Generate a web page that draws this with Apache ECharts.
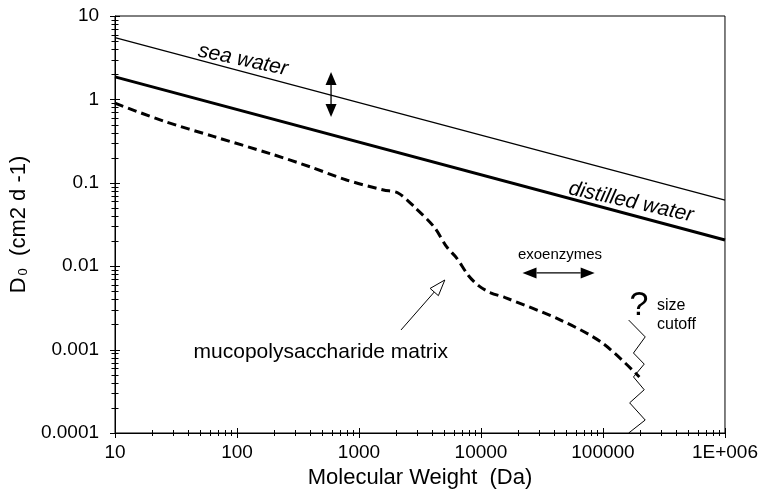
<!DOCTYPE html>
<html><head><meta charset="utf-8">
<script src="https://cdn.jsdelivr.net/npm/echarts@6/dist/echarts.min.js"></script>
<style>html,body{margin:0;padding:0;background:#fff}#c{width:761px;height:502px}</style>
</head><body><div id="c"></div>
<script>
// ---- data ----
const xTickLabels = ['10', '100', '1000', '10000', '100000', '1E+006'];
const yTickLabels = ['0.0001', '0.001', '0.01', '0.1', '1', '10'];
const seaWaterX = [10, 1000000];
const seaWaterY = [5.5, 0.062];
const distilledX = [10, 1000000];
const distilledY = [1.86, 0.0206];
const matrixX = [10, 25, 64, 192, 400, 790, 1590, 2090, 2860, 4130, 5240, 6300, 7850, 9600, 12000, 15800, 44900, 98900, 198700];
const matrixY = [0.9, 0.55, 0.36, 0.221, 0.155, 0.108, 0.082, 0.0755, 0.051, 0.0295, 0.017, 0.0126, 0.0078, 0.0058, 0.0048, 0.0042, 0.00226, 0.0012, 0.00047];
const cutoffX = [162400, 221900, 177800, 217800, 177800, 217800, 165400, 221900, 162400];
const cutoffY = [0.00226, 0.00142, 0.00091, 0.00067, 0.00047, 0.00033, 0.00023, 0.000143, 0.0001];
const seaArrowX = [590, 590];
const seaArrowY = [2.13, 0.615];
const exoArrowX = [21900, 85500];
const exoArrowY = [0.0083, 0.0083];
const matrixArrowX = [2210, 5050];
const matrixArrowY = [0.00172, 0.00683];

const FONT = '"Liberation Sans", Arial, Helvetica, sans-serif';
const zip = (a, b) => a.map((v, i) => [v, b[i]]);

// tick marks (major + minor) drawn through the axes' scales
const tickData = [];
for (let e = 1; e <= 6; e++) {
  const d = Math.pow(10, e);
  tickData.push([d, 1e-4, 0, 5]);
  if (e < 6) for (let k = 2; k <= 9; k++) tickData.push([d * k, 1e-4, 0, 3]);
}
for (let e = -4; e <= 1; e++) {
  const d = Math.pow(10, e);
  tickData.push([10, d, 1, 5]);
  if (e < 1) for (let k = 2; k <= 9; k++) tickData.push([10, d * k, 1, 3.5]);
}

const chart = echarts.init(document.getElementById('c'), null, {renderer: 'canvas'});
chart.setOption({
  animation: false,
  backgroundColor: '#fff',
  grid: {left: 99, right: 35, top: 16, bottom: 69, show: true, borderColor: '#000', borderWidth: 1},
  xAxis: {
    type: 'log', logBase: 10, min: 10, max: 1000000,
    name: 'Molecular Weight  (Da)', nameLocation: 'middle', nameGap: 34,
    nameTextStyle: {fontFamily: FONT, fontSize: 22, color: '#000'},
    axisLine: {lineStyle: {color: '#000', width: 1}},
    axisTick: {show: false}, splitLine: {show: false}, minorTick: {show: false},
    axisLabel: {fontFamily: FONT, fontSize: 19, color: '#000', margin: 10,
      formatter: v => xTickLabels[Math.round(Math.log10(v)) - 1]}
  },
  yAxis: {
    type: 'log', logBase: 10, min: 0.0001, max: 10,
    name: '{d|D}{s|0}{d|  (cm2 d -1)}', nameLocation: 'middle', nameGap: 66, nameRotate: 90,
    nameTextStyle: {fontFamily: FONT, fontSize: 22, color: '#000',
      rich: {d: {fontFamily: FONT, fontSize: 22, color: '#000'},
             s: {fontFamily: FONT, fontSize: 13, color: '#000', verticalAlign: 'bottom', padding: [0, 0, 0, 2]}}},
    axisLine: {lineStyle: {color: '#000', width: 1}},
    axisTick: {show: false}, splitLine: {show: false}, minorTick: {show: false},
    axisLabel: {fontFamily: FONT, fontSize: 19, color: '#000', margin: 16,
      formatter: v => yTickLabels[Math.round(Math.log10(v)) + 4]}
  },
  series: [
    {name: 'sea water', type: 'line', data: zip(seaWaterX, seaWaterY), symbol: 'none',
     lineStyle: {color: '#000', width: 1.2}},
    {name: 'distilled water', type: 'line', data: zip(distilledX, distilledY), symbol: 'none',
     lineStyle: {color: '#000', width: 3}},
    {name: 'mucopolysaccharide matrix', type: 'line', data: zip(matrixX, matrixY), symbol: 'none', smooth: 0.3,
     lineStyle: {color: '#000', width: 3, type: [9, 5]}},
    {name: 'size cutoff', type: 'line', data: zip(cutoffX, cutoffY), symbol: 'none',
     lineStyle: {color: '#000', width: 1}},
    {type: 'custom', silent: true, clip: false, z: 10, data: tickData,
     renderItem: function (params, api) {
       const x = api.value(0), y = api.value(1), which = api.value(2), len = api.value(3);
       const p = api.coord([x, y]);
       if (which === 0) {
         const xx = Math.round(p[0]) + 0.5;
         return {type: 'line', shape: {x1: xx, y1: p[1] - len, x2: xx, y2: p[1] + len}, style: {stroke: '#000', lineWidth: 1}};
       }
       const yy = Math.round(p[1]) + 0.5;
       return {type: 'line', shape: {x1: p[0] - len, y1: yy, x2: p[0] + len, y2: yy}, style: {stroke: '#000', lineWidth: 1}};
     }}
  ]
});

function px(x, y) { return chart.convertToPixel({gridIndex: 0}, [x, y]); }
function head(tip, from, len, half) {
  const dx = tip[0] - from[0], dy = tip[1] - from[1];
  const L = Math.sqrt(dx * dx + dy * dy), ux = dx / L, uy = dy / L;
  const bx = tip[0] - ux * len, by = tip[1] - uy * len;
  return {pts: [tip, [bx - uy * half, by + ux * half], [bx + uy * half, by - ux * half]], base: [bx, by]};
}
const g = [];
function doubleArrow(xs, ys, len, half) {
  const a = px(xs[0], ys[0]), b = px(xs[1], ys[1]);
  const h1 = head(a, b, len, half), h2 = head(b, a, len, half);
  g.push({type: 'line', shape: {x1: h1.base[0], y1: h1.base[1], x2: h2.base[0], y2: h2.base[1]}, style: {stroke: '#000', lineWidth: 1.3}});
  g.push({type: 'polygon', shape: {points: h1.pts}, style: {fill: '#000'}});
  g.push({type: 'polygon', shape: {points: h2.pts}, style: {fill: '#000'}});
}
doubleArrow(seaArrowX, seaArrowY, 13, 5.5);
doubleArrow(exoArrowX, exoArrowY, 14, 5.5);
(function () {
  const a = px(matrixArrowX[0], matrixArrowY[0]), b = px(matrixArrowX[1], matrixArrowY[1]);
  const h = head(b, a, 16, 5.5);
  g.push({type: 'line', shape: {x1: a[0], y1: a[1], x2: h.base[0], y2: h.base[1]}, style: {stroke: '#000', lineWidth: 1}});
  g.push({type: 'polygon', shape: {points: h.pts}, style: {fill: '#fff', stroke: '#000', lineWidth: 1}});
})();
function txt(text, x, y, size, opts) {
  opts = opts || {};
  g.push({type: 'text', x: x, y: y, rotation: (opts.rot || 0) * Math.PI / 180, z: 20,
    style: {text: text, fill: '#000', font: (opts.italic ? 'italic ' : '') + size + 'px ' + FONT,
      align: opts.align || 'center', verticalAlign: 'middle'}});
}
txt('sea water', 243, 60, 21, {italic: true, rot: -12});
txt('distilled water', 631, 202, 21, {italic: true, rot: -12.5});
txt('mucopolysaccharide matrix', 448, 352, 21, {align: 'right'});
txt('exoenzymes', 560, 255, 15);
txt('?', 639, 306, 34);
txt('size', 657, 306, 16, {align: 'left'});
txt('cutoff', 657, 325, 16, {align: 'left'});
chart.setOption({graphic: g});
</script>
</body></html>
